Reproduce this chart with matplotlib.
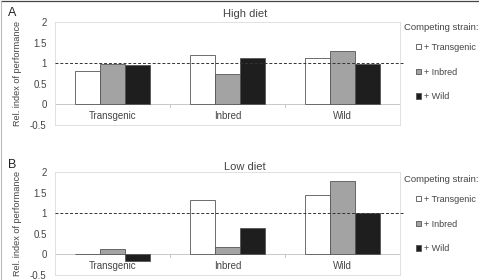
import matplotlib
matplotlib.use("Agg")
import matplotlib.pyplot as plt
import numpy as np
from matplotlib.patches import Patch
from matplotlib.lines import Line2D

plt.rcParams['font.family'] = ['Liberation Sans', 'DejaVu Sans']

categories = ['Transgenic', 'Inbred', 'Wild']
strains = ['+ Transgenic', '+ Inbred', '+ Wild']
colors = ['white', '#a3a3a3', '#1e1e1e']

high_vs_transgenic = [0.82, 1.20, 1.12]
high_vs_inbred = [0.98, 0.73, 1.29]
high_vs_wild = [0.96, 1.12, 0.98]

low_vs_transgenic = [0.0, 1.31, 1.43]
low_vs_inbred = [0.12, 0.19, 1.77]
low_vs_wild = [-0.16, 0.65, 1.00]

yticks = [-0.5, 0, 0.5, 1, 1.5, 2]
ytick_labels = ['-0.5', '0', '0.5', '1', '1.5', '2']

txt = '#444444'
frame = '#dcdcdc'

fig = plt.figure(figsize=(4.79, 2.80), dpi=100)


def draw_panel(ax, series, title, letter, title_y, letter_y, legend_y):
    x = np.arange(len(categories))
    w = 0.22
    for i, vals in enumerate(series):
        ax.bar(x + (i - 1) * w, vals, w, color=colors[i], edgecolor='#555555',
               linewidth=0.6, zorder=3)
    ax.axhline(1, color='#333333', linestyle=(0, (3, 2)), linewidth=0.7, zorder=4,
               clip_on=False, xmax=1.01)
    ax.axhline(0, color='#c8c8c8', linewidth=0.7, zorder=2)
    for b in [0.5, 1.5]:
        ax.plot([b, b], [0, -0.06], color='#c8c8c8', linewidth=0.7, zorder=2)
    for xi, c in zip(x, categories):
        ax.text(xi, -0.28, c, ha='center', va='center', fontsize=7, color=txt)
    ax.set_xlim(-0.5, 2.5)
    ax.set_ylim(-0.5, 2)
    ax.set_xticks([])
    ax.set_yticks(yticks)
    ax.set_yticklabels(ytick_labels, fontsize=7, color=txt)
    ax.tick_params(axis='y', length=0, pad=6)
    for s in ax.spines.values():
        s.set_color(frame)
        s.set_linewidth(0.6)
    ax.set_ylabel('Rel. index of performance', fontsize=6.6, color=txt, labelpad=6)
    fig.text(245 / 479, title_y, title, ha='center', va='center', fontsize=8, color=txt)
    fig.text(8 / 479, letter_y, letter, ha='left', va='center', fontsize=9, color='#222222')
    handles = [Patch(facecolor=colors[i], edgecolor='#555555', linewidth=0.6)
               for i in range(3)]
    fig.text(404 / 479, legend_y, 'Competing strain:', ha='left', va='center',
             fontsize=6.8, color=txt)
    fig.legend(handles, strains, loc='upper left',
               bbox_to_anchor=(410 / 479, legend_y - 0.03), frameon=False,
               fontsize=6.5, handlelength=0.55, handleheight=0.55,
               handletextpad=0.3, labelspacing=1.75, borderpad=0.2,
               labelcolor=txt)


ax_a = fig.add_axes([55 / 479, 1 - 125 / 280, 345 / 479, 103 / 280])
draw_panel(ax_a, [high_vs_transgenic, high_vs_inbred, high_vs_wild],
           'High diet', 'A', 1 - 14 / 280, 1 - 13 / 280, 1 - 28 / 280)

ax_b = fig.add_axes([55 / 479, 1 - 275 / 280, 345 / 479, 103 / 280])
draw_panel(ax_b, [low_vs_transgenic, low_vs_inbred, low_vs_wild],
           'Low diet', 'B', 1 - 167 / 280, 1 - 165 / 280, 1 - 180 / 280)

# outer frame lines of the figure panel
fig.add_artist(Line2D([0.003, 0.997], [0.996, 0.996], color='#444444', linewidth=0.9))
fig.add_artist(Line2D([0.003, 0.003], [0.0, 0.996], color='#bbbbbb', linewidth=0.8))

fig.savefig('out.png', dpi=100)
